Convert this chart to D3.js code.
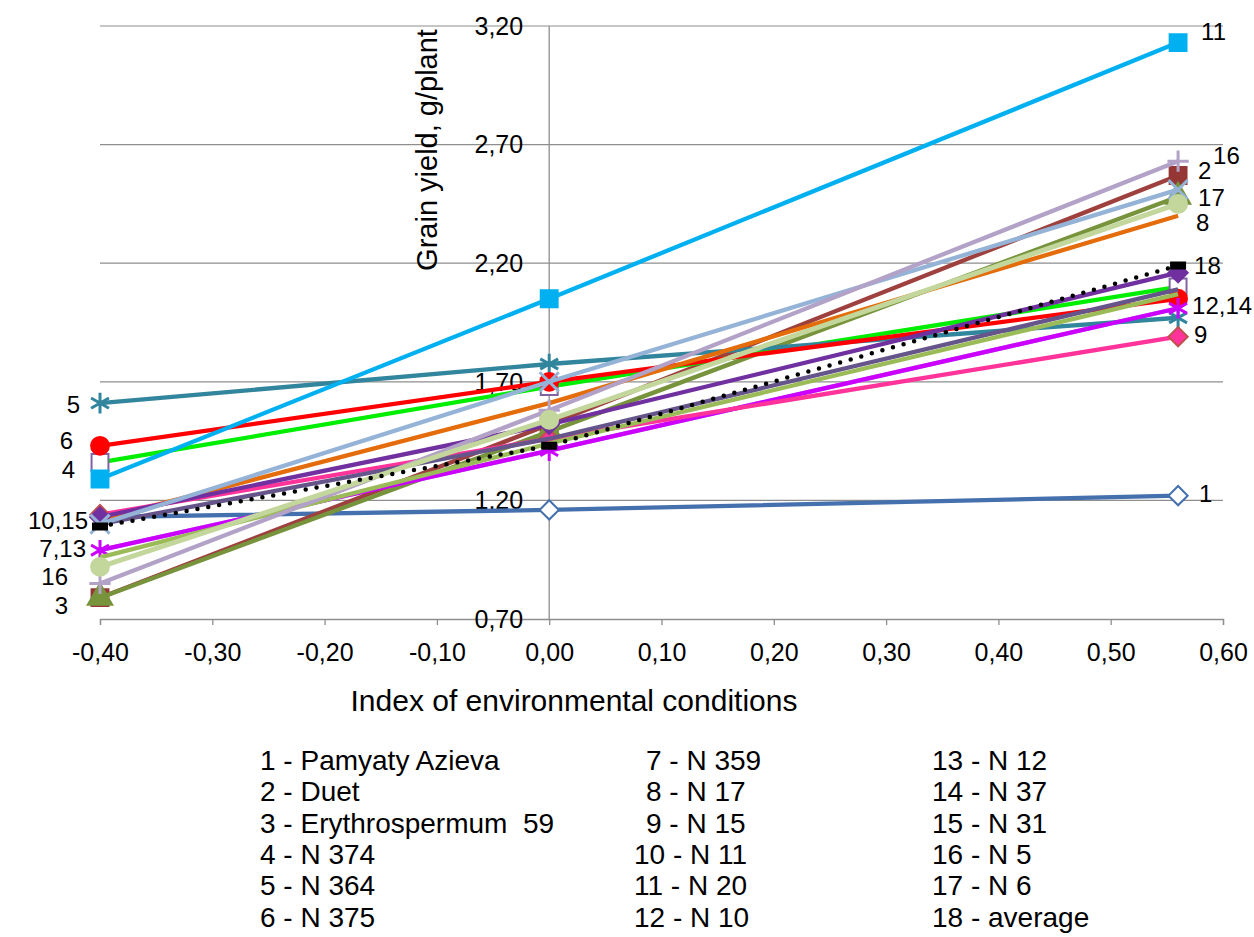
<!DOCTYPE html>
<html>
<head>
<meta charset="utf-8">
<script src="https://cdn.jsdelivr.net/npm/d3@7"></script>
<style>
  body { margin: 0; background: #fff; }
  text { font-family: "Liberation Sans", Arial, sans-serif; fill: #000; white-space: pre; }
</style>
</head>
<body>
<div id="chart"></div>
<script>
// index of environmental conditions (x positions of the three points)
const envIndex = [-0.40, 0.00, 0.56];

// series numbers and names (legend)
const seriesIds = d3.range(1, 19);
const seriesNames = ["Pamyaty Azieva", "Duet", "Erythrospermum  59", "N 374", "N 364", "N 375",
  "N 359", "N 17", "N 15", "N 11", "N 20", "N 10", "N 12", "N 37", "N 31", "N 5", "N 6", "average"];

// grain yield, g/plant, at each environment
const yieldLow  = [1.13, 0.79, 0.79, 1.36, 1.61, 1.43, 0.99, 1.12, 1.14, 1.13, 1.29, 1.10, 0.99, 0.96, 1.10, 0.85, 0.92, 1.09];
const yieldMid  = [1.16, 1.52, 1.49, 1.68, 1.775, 1.70, 1.41, 1.61, 1.46, 1.52, 2.05, 1.46, 1.41, 1.44, 1.70, 1.58, 1.54, 1.43];
const yieldHigh = [1.22, 2.57, 2.48, 2.10, 1.97, 2.05, 2.01, 2.40, 1.89, 2.16, 3.13, 2.09, 2.01, 2.07, 2.51, 2.63, 2.45, 2.19];

// axis ticks
const xTicks = [-0.40, -0.30, -0.20, -0.10, 0.00, 0.10, 0.20, 0.30, 0.40, 0.50, 0.60];
const yTicks = [0.70, 1.20, 1.70, 2.20, 2.70, 3.20];

// point labels: text, series it sits next to, which point (0 = left, 2 = right)
const pointLabels = [
  {text: "5", s: 5, p: 0, dx: -20, dy: 1},
  {text: "6", s: 6, p: 0, dx: -27, dy: -5},
  {text: "4", s: 4, p: 0, dx: -25, dy: 7},
  {text: "10,15", s: 10, p: 0, dx: -12, dy: 4},
  {text: "7,13", s: 7, p: 0, dx: -14, dy: -2},
  {text: "16", s: 16, p: 0, dx: -32, dy: -7},
  {text: "3", s: 3, p: 0, dx: -32, dy: 8},
  {text: "11", s: 11, p: 2, dx: 23, dy: -11},
  {text: "16", s: 16, p: 2, dx: 35, dy: -6},
  {text: "2", s: 2, p: 2, dx: 20, dy: -5},
  {text: "17", s: 17, p: 2, dx: 20, dy: -6},
  {text: "8", s: 8, p: 2, dx: 18, dy: 7},
  {text: "18", s: 18, p: 2, dx: 16, dy: 0},
  {text: "12,14", s: 12, p: 2, dx: 14, dy: 16},
  {text: "9", s: 9, p: 2, dx: 16, dy: -2},
  {text: "1", s: 1, p: 2, dx: 21, dy: -2}
];

// styles per series
const lineColors = ["#4470AE", "#9E413E", "#77933C", "#00EE00", "#31859C", "#FF0000",
  "#CC00FF", "#E46C0A", "#FF3399", "#7030A0", "#00B0F0", "#65558A",
  "#B5A3CF", "#9BBB59", "#95B3D7", "#B3A2C7", "#C3D69B", "#000000"];
const markers = [
  {type: "diamond", fill: "#fff", stroke: "#4470AE"},
  {type: "square", fill: "#953735", stroke: "#953735"},
  {type: "triangle", fill: "#77933C", stroke: "#77933C"},
  {type: "square", fill: "#fff", stroke: "#8064A2"},
  {type: "asterisk", fill: "none", stroke: "#31859C"},
  {type: "circle", fill: "#FF0000", stroke: "#FF0000"},
  {type: "asterisk", fill: "none", stroke: "#CC00FF"},
  null,
  {type: "diamond", fill: "#FF3399", stroke: "#C0504D"},
  {type: "diamond", fill: "#7030A0", stroke: "#7030A0"},
  {type: "square", fill: "#00B0F0", stroke: "#00B0F0"},
  null, null, null,
  {type: "x", fill: "none", stroke: "#95B3D7"},
  {type: "plus", fill: "none", stroke: "#B3A2C7"},
  {type: "circle", fill: "#C3D69B", stroke: "#C3D69B"},
  {type: "dash", fill: "#000", stroke: "#000"}
];
// 13 lies under 7, so draw it first
const drawOrder = [13, 1, 2, 3, 4, 5, 6, 7, 8, 9, 10, 11, 12, 14, 15, 16, 17, 18];

const W = 1254, H = 937;
const svg = d3.select("#chart").append("svg").attr("width", W).attr("height", H);

const x = d3.scaleLinear().domain([-0.40, 0.60]).range([100, 1223]);
const y = d3.scaleLinear().domain([0.70, 3.20]).range([619, 26]);

const fmt = d3.formatLocale({decimal: ",", thousands: " ", grouping: [3], currency: ["", ""], minus: "-"}).format(".2f");

// horizontal gridlines
svg.append("g").selectAll("line")
  .data(yTicks.slice(1))
  .enter().append("line")
  .attr("x1", x(-0.40)).attr("x2", x(0.60))
  .attr("y1", d => y(d)).attr("y2", d => y(d))
  .attr("stroke", "#8E8E8E").attr("stroke-width", 1.2);

// x axis at the bottom
const xAxis = svg.append("g")
  .attr("transform", `translate(0,${y(0.70)})`)
  .call(d3.axisBottom(x).tickValues(xTicks).tickFormat(fmt).tickSize(6).tickPadding(18));
xAxis.selectAll("path, line").attr("stroke", "#8E8E8E").attr("stroke-width", 1.3);
xAxis.selectAll("text").style("font-family", "Liberation Sans, Arial, sans-serif").style("font-size", "25px").attr("fill", "#000");

// vertical axis at x = 0
svg.append("line")
  .attr("x1", x(0)).attr("x2", x(0))
  .attr("y1", y(3.20)).attr("y2", y(0.70))
  .attr("stroke", "#8E8E8E").attr("stroke-width", 1.3);

// y tick labels
svg.append("g").selectAll("text")
  .data(yTicks)
  .enter().append("text")
  .attr("x", x(0) - 26).attr("y", d => y(d))
  .attr("dy", "0.35em")
  .attr("text-anchor", "end")
  .style("font-size", "25px")
  .text(fmt);

// axis titles
svg.append("text")
  .attr("transform", `translate(437,150) rotate(-90)`)
  .attr("text-anchor", "middle")
  .style("font-size", "29px")
  .text("Grain yield, g/plant");

svg.append("text")
  .attr("x", 574).attr("y", 711)
  .attr("text-anchor", "middle")
  .style("font-size", "30px")
  .text("Index of environmental conditions");

// series data
const series = seriesIds.map((id, i) => ({
  id: id,
  color: lineColors[i],
  marker: markers[i],
  points: envIndex.map((e, j) => ({x: e, y: [yieldLow, yieldMid, yieldHigh][j][i]}))
}));
const byId = id => series[id - 1];

const line = d3.line().x(d => x(d.x)).y(d => y(d.y));

function markerPath(type) {
  if (type === "diamond") return d3.symbol(d3.symbolSquare, 185)();
  if (type === "square") return d3.symbol(d3.symbolSquare, 285)();
  if (type === "triangle") return d3.symbol(d3.symbolTriangle, 260)();
  if (type === "circle") return d3.symbol(d3.symbolCircle, 250)();
  if (type === "asterisk") return d3.symbol(d3.symbolAsterisk, 300)();
  if (type === "x") return d3.symbol(d3.symbolX, 240)();
  if (type === "plus") return d3.symbol(d3.symbolPlus, 150)();
  return "M-7,-3H7V3H-7Z";
}

const gSeries = svg.append("g");
drawOrder.forEach(id => {
  const s = byId(id);
  const g = gSeries.append("g");
  const path = g.append("path")
    .datum(s.points)
    .attr("d", line)
    .attr("fill", "none")
    .attr("stroke", s.color)
    .attr("stroke-linejoin", "round");
  if (id === 18) {
    path.attr("stroke-width", 4.5).attr("stroke-dasharray", "0 11").attr("stroke-linecap", "round");
  } else {
    path.attr("stroke-width", id === 17 ? 5 : 4.3);
  }
  if (s.marker) {
    const m = s.marker;
    const stroked = ["asterisk", "x", "plus"].includes(m.type);
    g.selectAll(".mk")
      .data(s.points)
      .enter().append("path")
      .attr("class", "mk")
      .attr("transform", d => `translate(${x(d.x)},${y(d.y)})` + (m.type === "diamond" ? " rotate(45)" : ""))
      .attr("d", markerPath(m.type))
      .attr("fill", m.fill)
      .attr("stroke", m.stroke)
      .attr("stroke-width", stroked ? 3 : 2);
  }
});

// point labels
svg.append("g").selectAll("text")
  .data(pointLabels)
  .enter().append("text")
  .attr("x", d => x(envIndex[d.p]) + d.dx)
  .attr("y", d => y(byId(d.s).points[d.p].y) + d.dy)
  .attr("dy", "0.35em")
  .attr("text-anchor", d => d.p === 0 ? "end" : "start")
  .style("font-size", "24px")
  .text(d => d.text);

// legend in three columns of six
const legendX = [260, 634, 932];
svg.append("g").selectAll("text")
  .data(seriesIds)
  .enter().append("text")
  .attr("x", (d, i) => legendX[Math.floor(i / 6)] + (i >= 6 && i < 12 && d < 10 ? 12 : 0))
  .attr("y", (d, i) => 760 + (i % 6) * 31.4)
  .attr("dy", "0.35em")
  .style("font-size", "28px")
  .text((d, i) => `${d} - ${seriesNames[i]}`);
</script>
</body>
</html>
